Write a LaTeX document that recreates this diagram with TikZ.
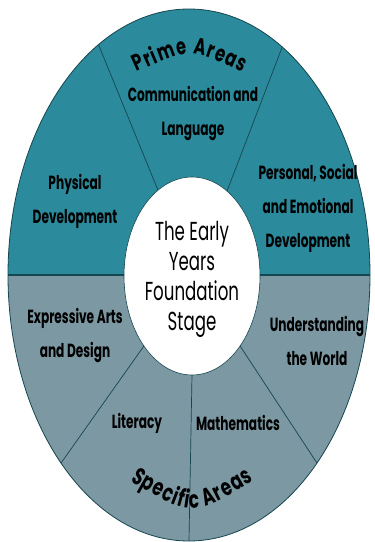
\documentclass[tikz,border=0pt]{standalone}
\usepackage{fontspec}
\setmainfont{Poppins}
\newfontfamily\lblfont[FakeStretch=0.64]{Poppins}
\newfontfamily\arcfont[FakeStretch=0.7]{Poppins}
\newfontfamily\ctrfont[FakeStretch=0.64]{Poppins}
\usetikzlibrary{decorations.text,calc,shapes.geometric}
\definecolor{primeC}{RGB}{43,138,155}
\definecolor{specC}{RGB}{124,152,162}
\definecolor{lineC}{RGB}{22,70,80}
\begin{document}
\begin{tikzpicture}[x=1pt,y=1pt,
  lbl/.style={font=\lblfont\bfseries\fontsize{19}{34}\selectfont, align=center, text=black, inner sep=0pt},
  divider/.style={draw=lineC, line width=0.7pt}]
\useasboundingbox (0,0) rectangle (375,542);
\coordinate (O) at (189,267);
\coordinate (I) at (192,266);
\coordinate (L) at ($(O)+(-181,0)$);
\coordinate (R) at ($(O)+(181,0)$);
\fill[primeC] (L) arc[start angle=180,end angle=0,x radius=181,y radius=266] -- cycle;
\fill[specC] (L) arc[start angle=180,end angle=360,x radius=181,y radius=266] -- cycle;
\draw[lineC, line width=0.8pt] (O) ellipse[x radius=181,y radius=266];
\draw[lineC, line width=1.3pt] (L) -- (R);
\foreach \a in {59,120,225,270,315}{
  \coordinate (in\a) at ($(I)+(\a:68 and 99)$);
  \coordinate (out\a) at ($(O)+(\a:181 and 266)$);
  \draw[divider] (in\a) -- (out\a);
}
\node[ellipse, draw=lineC, line width=0.6pt, fill=white, minimum width=136, minimum height=198, inner sep=0pt] (eyfs) at (I) {};
\node[font=\ctrfont\fontsize{26}{30}\selectfont, align=center, inner sep=0pt] (eyfst) at (192,263) {The Early\\Years\\Foundation\\Stage};
\node[lbl] (cl) at (193,428) {Communication and\\Language};
\node[lbl] (pd) at (75,341) {Physical\\Development};
\node[lbl] (pse) at (308,334) {Personal, Social\\and Emotional\\Development};
\node[lbl] (ead) at (75,206) {Expressive Arts\\and Design};
\node[lbl] (utw) at (317,201) {Understanding\\the World};
\node[lbl] (lit) at (137,119) {Literacy};
\node[lbl] (mat) at (238,119) {Mathematics};
\path[decorate, decoration={text along path, text align=fit to path,
  text={|\arcfont\bfseries\fontsize{23}{23}\selectfont|Prime Areas}}]
  (137,470) .. controls (190,494) .. (243,470);
\path[decorate, decoration={text along path, text align=fit to path,
  text={|\arcfont\bfseries\fontsize{24}{24}\selectfont|Specific Areas}}]
  (130,61) .. controls (192,25) .. (254,61);
\end{tikzpicture}
\end{document}
